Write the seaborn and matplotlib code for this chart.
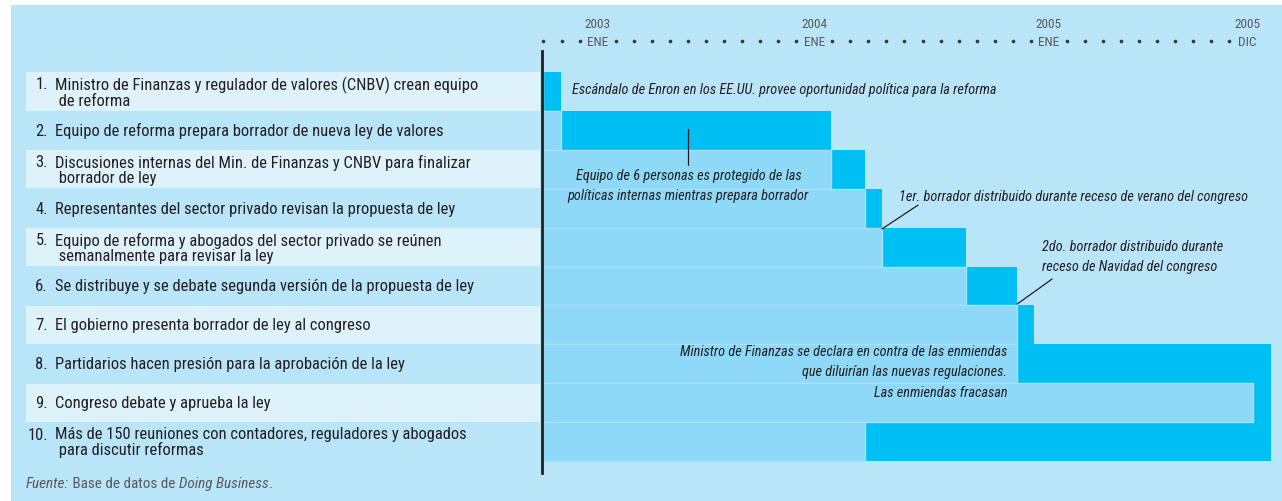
"""
Reforma de la ley de valores: cronograma (Gantt)
"""
import matplotlib
matplotlib.use('Agg')
import matplotlib.pyplot as plt
import seaborn as sns
from matplotlib import font_manager
from matplotlib.patches import Rectangle

sns.set_theme(style='white')

# pick a narrow family if one is installed, otherwise DejaVu (sizes get fitted below)
fonts = font_manager.fontManager.ttflist
names = {f.name for f in fonts}
FAMILY, STRETCH = 'DejaVu Sans', 'normal'
for cand in ['Roboto Condensed', 'Open Sans Condensed', 'Liberation Sans Narrow',
             'Ubuntu Condensed', 'DejaVu Sans Condensed']:
    if cand in names:
        FAMILY = cand
        break
else:
    if any(f.name == 'DejaVu Sans' and f.stretch == 'condensed' for f in fonts):
        STRETCH = 'condensed'
plt.rcParams['font.family'] = [FAMILY, 'DejaVu Sans']
plt.rcParams['font.stretch'] = STRETCH

# --- data -------------------------------------------------------------
task_num = ['1.', '2.', '3.', '4.', '5.', '6.', '7.', '8.', '9.', '10.']
tasks = [
    'Ministro de Finanzas y regulador de valores (CNBV) crean equipo\n de reforma',
    'Equipo de reforma prepara borrador de nueva ley de valores',
    'Discusiones internas del Min. de Finanzas y CNBV para finalizar\n borrador de ley',
    'Representantes del sector privado revisan la propuesta de ley',
    'Equipo de reforma y abogados del sector privado se reúnen\n semanalmente para revisar la ley',
    'Se distribuye y se debate segunda versión de la propuesta de ley',
    'El gobierno presenta borrador de ley al congreso',
    'Partidarios hacen presión para la aprobación de la ley',
    'Congreso debate y aprueba la ley',
    'Más de 150 reuniones con contadores, reguladores y abogados\n para discutir reformas',
]
# months counted from oct 2002 (first dot)
start_month = [0.0, 0.95, 15.95, 17.8, 18.75, 23.4, 26.25, 26.25, 39.3, 17.8]
end_month = [0.95, 15.95, 17.8, 18.75, 23.4, 26.25, 27.2, 40.3, 40.3, 40.3]

n_months = 40
tick_months = [3, 15, 28, 39]
tick_years = ['2003', '2004', '2005', '2005']
tick_names = ['ENE', 'ENE', 'ENE', 'DIC']

# --- colours -------------------------------------------------------------
PANEL = '#B9E5F9'
BAND = '#DEF2FC'
BRIGHT = '#00BFF3'
MEDIUM = '#8DD9F7'
MED_EDGE = '#A6E2F9'
INK = '#231F20'
GREY = '#58595B'

# --- figure geometry (pixels) -----------------------------------------------
W, H = 1282, 502
PX_MONTH = 18.06
X0 = 543          # pixel of month 0
ROW_TOP = 73      # pixel top of row 1
ROW_H = 38.9

def row_y(px):
    return -0.5 + (px - ROW_TOP) / ROW_H

fig = plt.figure(figsize=(W / 100, H / 100), dpi=100)
fig.patch.set_facecolor('white')
renderer = fig.canvas.get_renderer()

def fit_size(text, width_px, **kw):
    # font size that makes `text` about width_px wide in the chosen font
    t = fig.text(0, 0, text, fontsize=10, **kw)
    w = t.get_window_extent(renderer).width
    t.remove()
    return 10 * width_px / w

LAB_FS = fit_size('Ministro de Finanzas y regulador de valores (CNBV) crean equipo', 423)
NOTE_FS = fit_size('Escándalo de Enron en los EE.UU. provee oportunidad política '
                   'para la reforma', 424, style='italic')
TICK_FS = fit_size('2003', 26)
SRC_FS = fit_size('Fuente: Base de datos de Doing Business.', 248)

fig.patches.append(Rectangle((11 / W, 0), 1 - 11 / W, (H - 6) / H,
                             transform=fig.transFigure, facecolor=PANEL,
                             edgecolor='none', zorder=-10))

ylim = (row_y(H), row_y(6))

# left axes: task labels
ax_lab = fig.add_axes([0, 0, 540 / W, (H - 6) / H])
ax_lab.set_xlim(0, 540)
ax_lab.set_ylim(*ylim)
ax_lab.set_facecolor('none')
ax_lab.axis('off')
rows = list(range(len(tasks)))
ax_lab.barh(rows[::2], 514, left=26, height=0.98, color=BAND, edgecolor='none')
for i, (num, txt) in enumerate(zip(task_num, tasks)):
    # pad the number with blank lines so it sits on the first line of the text
    ax_lab.text(48, i, num + '\n ' * txt.count('\n'), ha='right', va='center',
                fontsize=LAB_FS, color=INK, linespacing=1.0)
    ax_lab.text(55, i, txt, ha='left', va='center', fontsize=LAB_FS,
                color=INK, linespacing=1.0)

# source line
src = ax_lab.text(26, row_y(484), 'Fuente:', ha='left', va='center',
                  fontsize=SRC_FS, color=GREY, style='italic')
src2 = ax_lab.annotate(' Base de datos de ', xy=(1, 0), xycoords=src,
                       ha='left', va='bottom', fontsize=SRC_FS, color=GREY)
src3 = ax_lab.annotate('Doing Business', xy=(1, 0), xycoords=src2,
                       ha='left', va='bottom', fontsize=SRC_FS, color=GREY,
                       style='italic')
ax_lab.annotate('.', xy=(1, 0), xycoords=src3, ha='left', va='bottom',
                fontsize=SRC_FS, color=GREY)

# main axes: gantt
ax = fig.add_axes([542 / W, 0, (W - 542) / W, (H - 6) / H])
ids = [str(i) for i in rows]
sns.barplot(x=end_month, y=ids, orient='h', color=BRIGHT, saturation=1,
            width=1.0, linewidth=0, ax=ax)
sns.barplot(x=start_month, y=ids, orient='h', color=MEDIUM, saturation=1,
            width=1.0, edgecolor=MED_EDGE, linewidth=1.0, ax=ax)
ax.set_xlim((541.5 - X0) / PX_MONTH, (W - X0) / PX_MONTH)
ax.set_ylim(*ylim)
ax.set_facecolor('none')
ax.set_xlabel('')
ax.set_ylabel('')
ax.set_xticks([])
ax.set_yticks([])
for s in ['top', 'right', 'bottom']:
    ax.spines[s].set_visible(False)
ax.spines['left'].set_color(INK)
ax.spines['left'].set_linewidth(2)
ax.spines['left'].set_bounds(row_y(52), row_y(474))

# month dots and labels along the top
y_dots = row_y(42)
y_year = row_y(24)
dot_months = [m for m in range(n_months) if m not in tick_months]
sns.scatterplot(x=dot_months, y=[y_dots] * len(dot_months), color='#3A3A3C',
                s=7, linewidth=0, legend=False, ax=ax, clip_on=False)
for m, yr, nm in zip(tick_months, tick_years, tick_names):
    ax.text(m, y_year, yr, ha='center', va='center', fontsize=TICK_FS, color=GREY)
    ax.text(m, y_dots, nm, ha='center', va='center', fontsize=TICK_FS, color=GREY)

# annotations
note = dict(fontsize=NOTE_FS, color=INK, style='italic', linespacing=1.6)
ax.text(1.6, row_y(90), 'Escándalo de Enron en los EE.UU. provee oportunidad '
        'política para la reforma', ha='left', va='center', **note)
ax.text(8.03, row_y(186), 'Equipo de 6 personas es protegido de las\n'
        'políticas internas mientras prepara borrador', ha='center',
        va='center', **note)
ax.plot([8.03, 8.03], [row_y(130), row_y(166)], color=INK, lw=0.9)
ax.text(19.71, row_y(197), '1er. borrador distribuido durante receso de verano '
        'del congreso', ha='left', va='center', **note)
ax.plot([end_month[3], 20.76], [row_y(230), row_y(206)], color=INK, lw=0.9)
ax.text(27.63, row_y(257), '2do. borrador distribuido durante\n'
        'receso de Navidad del congreso', ha='left', va='center', **note)
ax.plot([end_month[5], 28.18], [row_y(305), row_y(280)], color=INK, lw=0.9)
ax.text(25.69, row_y(372.5), 'Ministro de Finanzas se declara en contra de las '
        'enmiendas\nque diluirían las nuevas regulaciones.\n'
        'Las enmiendas fracasan', ha='right', va='center',
        multialignment='right', **note)

fig.savefig('out.png', dpi=100, facecolor=fig.get_facecolor())
